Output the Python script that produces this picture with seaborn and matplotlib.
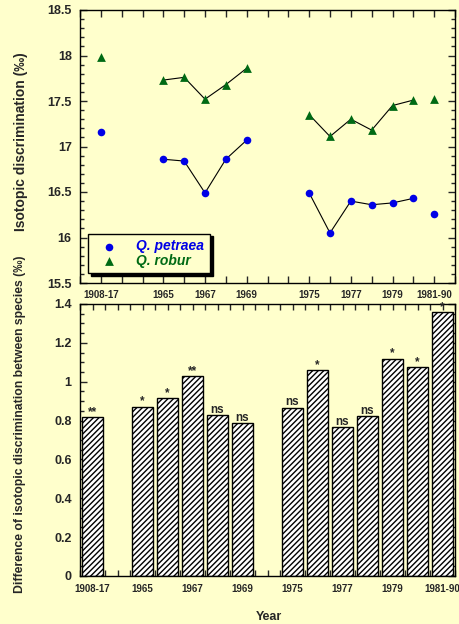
import numpy as np
import pandas as pd
import matplotlib
matplotlib.use("Agg")
import matplotlib.pyplot as plt
from matplotlib.ticker import MultipleLocator, FuncFormatter
import seaborn as sns

# periods, in order of the x axis
periods = ["1908-17", "1965", "1966", "1967", "1968", "1969",
           "1975", "1976", "1977", "1978", "1979", "1980", "1981-90"]
# block of consecutive years each period belongs to (used for the gaps)
block = [0, 1, 1, 1, 1, 1, 2, 2, 2, 2, 2, 2, 2]
# annual runs joined by a line (None = not joined)
run = [None, "a", "a", "a", "a", "a", "b", "b", "b", "b", "b", "b", None]

petraea = [17.16, 16.86, 16.84, 16.49, 16.86, 17.07,
           16.49, 16.05, 16.40, 16.36, 16.38, 16.43, 16.26]
robur = [17.98, 17.73, 17.76, 17.52, 17.68, 17.86,
         17.35, 17.11, 17.30, 17.18, 17.45, 17.51, 17.52]
diff = [0.818, 0.870, 0.916, 1.027, 0.827, 0.786,
        0.866, 1.060, 0.767, 0.823, 1.117, 1.075, 1.357]
signif = ["**", "*", "*", "**", "ns", "ns",
          "ns", "*", "ns", "ns", "*", "*", "*"]
shown_labels = ["1908-17", "1965", "1967", "1969", "1975", "1977", "1979", "1981-90"]

bg = "#ffffcc"
blue = "#0000e6"
green = "#006a14"

sns.set_theme(style="ticks", rc={"axes.facecolor": bg, "figure.facecolor": bg,
                                 "axes.edgecolor": "black", "axes.linewidth": 1.0,
                                 "xtick.direction": "in", "ytick.direction": "in"})
plt.rcParams["font.family"] = ["Liberation Sans", "DejaVu Sans"]
plt.rcParams["font.weight"] = "bold"
plt.rcParams["hatch.linewidth"] = 1.0

df = pd.DataFrame({"period": periods, "block": block, "run": run,
                   "petraea": petraea, "robur": robur, "diff": diff, "sig": signif})
idx = np.arange(len(df))
df["xtop"] = idx + 2 * df["block"] + 1
df["xbot"] = idx + df["block"]

fig = plt.figure(figsize=(4.59, 6.24), dpi=100)
ax1 = fig.add_axes([80 / 459, 1 - 283 / 624, 375 / 459, 273 / 624])
ax2 = fig.add_axes([80 / 459, 1 - 576 / 624, 375 / 459, 272 / 624])

# ---- top panel: isotopic discrimination per species
lines = df.dropna(subset=["run"])
for col in ["petraea", "robur"]:
    sns.lineplot(data=lines, x="xtop", y=col, units="run", estimator=None,
                 color="black", lw=0.8, ax=ax1, zorder=2, legend=False)
sns.scatterplot(data=df, x="xtop", y="petraea", marker="o", s=30, color=blue,
                edgecolor=blue, linewidth=0, ax=ax1, zorder=3, label="Q. petraea")
sns.scatterplot(data=df, x="xtop", y="robur", marker="^", s=40, color=green,
                edgecolor=green, linewidth=0, ax=ax1, zorder=3, label="Q. robur")

ax1.set_xlim(0, 18)
ax1.set_ylim(15.5, 18.5)
top_ticks = df.loc[df["period"].isin(shown_labels), "xtop"]
ax1.set_xticks(top_ticks)
ax1.set_xticks(np.arange(0, 19), minor=True)
ax1.set_xticklabels(shown_labels)
ax1.yaxis.set_major_locator(MultipleLocator(0.5))
ax1.yaxis.set_minor_locator(MultipleLocator(0.1))
ax1.yaxis.set_major_formatter(FuncFormatter(lambda v, p: "%g" % v))
ax1.tick_params(which="both", top=True, right=True, direction="in")
ax1.tick_params(which="major", length=5, width=1)
ax1.tick_params(which="minor", length=3, width=1)
ax1.tick_params(axis="x", which="both", length=5, labelsize=7, pad=5)
ax1.tick_params(axis="y", labelsize=9, pad=6)
ax1.set_xlabel("")
ax1.set_ylabel("")

leg = ax1.legend(loc="lower left", bbox_to_anchor=(0.021, 0.035), borderaxespad=0,
                 frameon=True, fancybox=False, shadow={"color": "black", "alpha": 1},
                 framealpha=1, edgecolor="black", handletextpad=0.9, handlelength=2.2,
                 prop={"size": 10, "weight": "bold", "style": "italic"},
                 borderpad=0.4, labelspacing=0.05)
leg.get_frame().set_linewidth(1.0)
for t, c in zip(leg.get_texts(), [blue, green]):
    t.set_color(c)

# ---- bottom panel: difference between species
sns.barplot(data=df, x="xbot", y="diff", native_scale=True, width=0.84,
            color="white", edgecolor="black", linewidth=1.0, ax=ax2, zorder=2)
for bar in ax2.patches:
    bar.set_hatch("//////")
    bar.set_facecolor("white")
for x, y, s in zip(df["xbot"], df["diff"], df["sig"]):
    ax2.text(x, y + 0.012, s, ha="center", va="baseline", fontsize=8.5,
             fontweight="bold", zorder=5)

ax2.set_xlim(-0.5, 14.5)
ax2.set_ylim(0, 1.4)
bot_ticks = df.loc[df["period"].isin(shown_labels), "xbot"]
ax2.set_xticks(bot_ticks)
ax2.set_xticklabels(shown_labels)
ax2.set_xticks(np.arange(-0.5, 14.6, 0.5), minor=True)
ax2.yaxis.set_major_locator(MultipleLocator(0.2))
ax2.yaxis.set_minor_locator(MultipleLocator(0.05))
ax2.yaxis.set_major_formatter(FuncFormatter(lambda v, p: "%g" % v))
ax2.tick_params(which="both", top=True, right=True, direction="in")
ax2.tick_params(which="major", length=5, width=1)
ax2.tick_params(which="minor", length=3, width=1)
ax2.tick_params(axis="x", which="both", length=4, labelsize=7, pad=6)
ax2.tick_params(axis="y", labelsize=9, pad=6)
ax2.set_xlabel("")
ax2.set_ylabel("")

fig.text(21 / 459, 1 - 142 / 624, "Isotopic discrimination (‰)", rotation=90,
         ha="center", va="center", fontsize=10, fontweight="bold")
fig.text(20 / 459, 1 - 424 / 624, "Difference of isotopic discrimination between species (‰)",
         rotation=90, ha="center", va="center", fontsize=8.8, fontweight="bold")
fig.text(269 / 459, 1 - 617 / 624, "Year", ha="center", va="center",
         fontsize=9, fontweight="bold")

fig.savefig("out.png", dpi=100, facecolor=bg)
